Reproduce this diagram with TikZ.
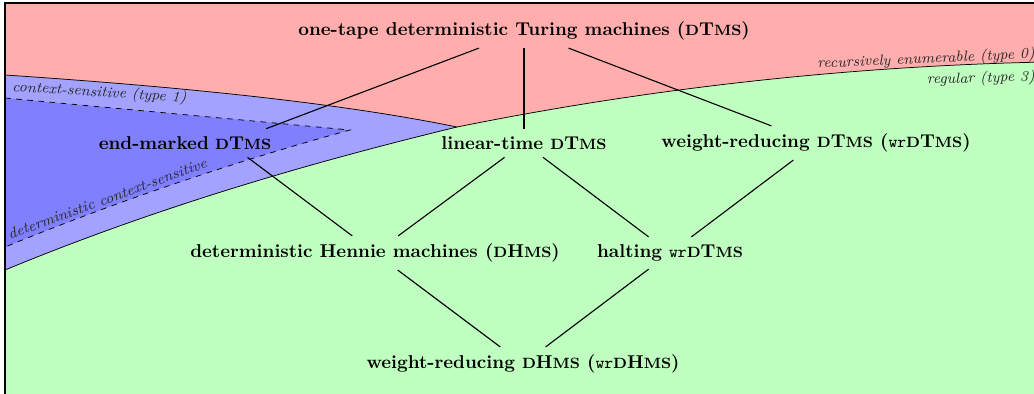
\documentclass[tikz,border=0pt]{standalone}
\usepackage{tikz}
\usetikzlibrary{calc}
\usepackage{xcolor}

% bold small caps, faked with a smaller size
\newcommand{\sca}[1]{{\footnotesize\MakeUppercase{#1}}}
\newcommand{\wrt}{{\mdseries\ttfamily\small wr}}
\newcommand{\dtms}{\sca{d}T\sca{ms}}
\newcommand{\dhms}{\sca{d}H\sca{ms}}

\tikzset{
  machine/.style={font=\bfseries, inner sep=4pt},
  family/.style={font=\footnotesize\itshape, text=black!85, inner sep=1pt},
  incl/.style={semithick}
}

\begin{document}
\begin{tikzpicture}[x=0.0189cm, y=-0.0189cm]
\useasboundingbox (0,0) rectangle (1034,393);

% Draw the recursively enumerable languages (whole frame)
\fill[red!32] (5,3) rectangle (1045,400);

% Draw the regular languages below the curve
\fill[green!25] (5,270) .. controls (150,210) and (300,165) .. (457,127)
    .. controls (650,88) and (850,66) .. (1045,62)
    -- (1045,400) -- (5,400) -- cycle;

% Draw the context-sensitive band
\fill[blue!36] (5,75) .. controls (200,88) and (350,105) .. (457,127)
    .. controls (300,165) and (150,210) .. (5,270) -- cycle;

% Draw the deterministic context-sensitive wedge
\fill[blue!50] (5,98) -- (350,130)
    .. controls (240,160) and (120,200) .. (5,247) -- cycle;

% Borders of the families
\draw[dashed] (5,98) -- (350,130) .. controls (240,160) and (120,200) .. (5,247);
\draw (5,75) .. controls (200,88) and (350,105) .. (457,127);
\draw (5,270) .. controls (150,210) and (300,165) .. (457,127)
    .. controls (650,88) and (850,66) .. (1045,62);
\draw[semithick] (1045,3) -- (5,3) -- (5,400);

% Labels of the families
\node[family, rotate=-3.6, anchor=base west] (cs) at (10,91) {context-sensitive (type 1)};
\node[family, rotate=20, anchor=base west] (dcs) at (8,240) {deterministic context-sensitive};
\node[family, rotate=2.6, anchor=base east] (re) at (1037,58) {recursively enumerable (type 0)};
\node[family, rotate=1.5, anchor=base east] (reg) at (1037,81) {regular (type 3)};

% Machine models
\node[machine] (otdtm) at (524,31) {one-tape deterministic Turing machines (\dtms)};
\node[machine, text width=4.9cm, align=left, anchor=west] (endm) at (91,143) {end-marked \dtms};
\node[machine] (lin) at (524,143) {linear-time \dtms};
\node[machine] (wrd) at (816,143) {weight-reducing \dtms\ (\wrt\dtms)};
\node[machine] (hennie) at (375,253) {deterministic Hennie machines (\dhms)};
\node[machine] (halt) at (670,253) {halting \wrt\dtms};
\node[machine] (wrdhm) at (523,364) {weight-reducing \dhms\ (\wrt\dhms)};

% Inclusions
\draw[incl] (otdtm) -- (endm);
\draw[incl] (otdtm) -- (lin);
\draw[incl] (otdtm) -- (wrd);
\draw[incl] (endm) -- (hennie);
\draw[incl] (lin) -- (hennie);
\draw[incl] (lin) -- (halt);
\draw[incl] (wrd) -- (halt);
\draw[incl] (hennie) -- (wrdhm);
\draw[incl] (halt) -- (wrdhm);
\end{tikzpicture}
\end{document}
